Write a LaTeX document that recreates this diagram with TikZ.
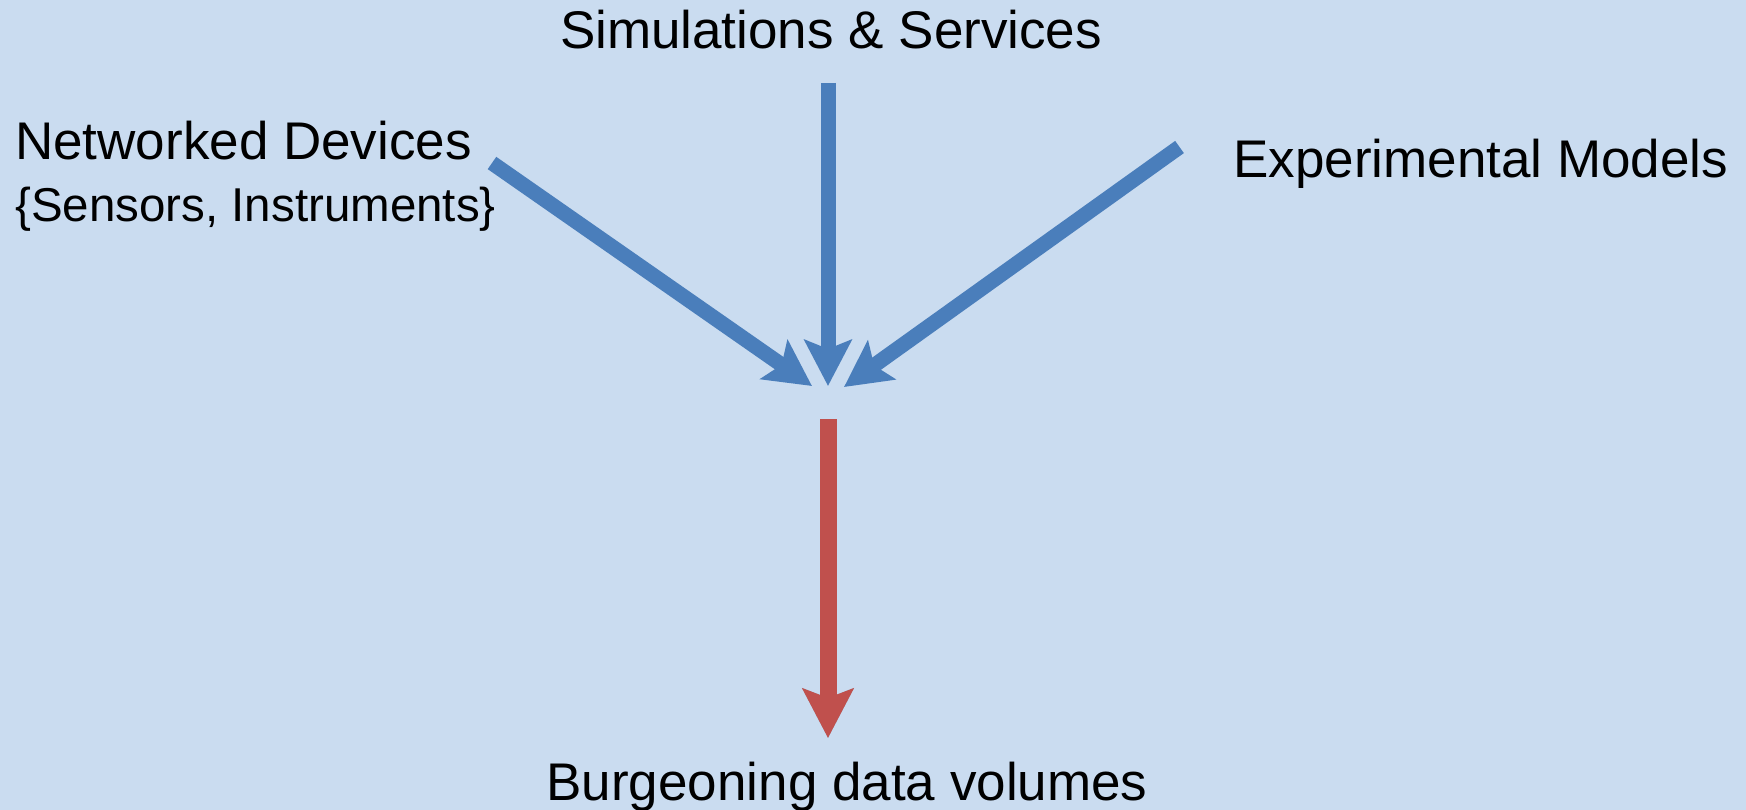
\documentclass[tikz,border=0pt]{standalone}
\usepackage{fontspec}
\setmainfont{Liberation Sans}
\usetikzlibrary{arrows.meta}
\definecolor{bgblue}{RGB}{202,220,240}
\definecolor{flowblue}{RGB}{74,126,187}
\definecolor{flowred}{RGB}{192,80,77}
\begin{document}
\begin{tikzpicture}[x=1pt,y=-1pt,
  txt/.style={inner sep=0pt, text=black, font=\fontsize{53}{64}\selectfont},
  txtsmall/.style={inner sep=0pt, text=black, font=\fontsize{47.5}{57}\selectfont},
  feed/.style={draw=flowblue, line width=15pt, -{Stealth[width=47pt,length=46pt,inset=9pt]}},
  result/.style={draw=flowred, line width=17pt, -{Stealth[width=50pt,length=49pt,inset=9pt]}},
  resultshadow/.style={draw=black, draw opacity=0.06, line width=17pt, -{Stealth[width=50pt,length=49pt,inset=9pt]}}]
  % canvas
  \fill[bgblue] (0,0) rectangle (1746,810);
  \useasboundingbox (0,0) rectangle (1746,810);

  % labels
  \node[txt, anchor=base] (sims) at (831,49) {Simulations \& Services};
  \node[txt, anchor=base west] (netdev) at (15,160) {Networked Devices};
  \node[txtsmall, anchor=base west] (netsub) at (15,222) {\{Sensors, Instruments\}};
  \node[txt, anchor=base west] (expmod) at (1233,178) {Experimental Models};
  \node[txt, anchor=base] (volumes) at (847,800) {Burgeoning data volumes};

  % arrow end points
  \coordinate (leftstart) at (492,163);
  \coordinate (leftend) at (812,386);
  \coordinate (midstart) at (828,83);
  \coordinate (midend) at (828,386);
  \coordinate (rightstart) at (1179.5,147);
  \coordinate (rightend) at (844,387);
  \coordinate (outstart) at (828,419);
  \coordinate (outend) at (828,738);

  % inputs converging
  \draw[feed] (leftstart) -- (leftend);
  \draw[feed] (midstart) -- (midend);
  \draw[feed] (rightstart) -- (rightend);

  % soft shadow under the output arrow
  \foreach \dx/\dy in {2/2, 3/3.5, 4/5, 5/6.5}
    \draw[resultshadow, shift={(\dx,\dy)}] (outstart) -- (outend);
  % output
  \draw[result] (outstart) -- (outend);
\end{tikzpicture}
\end{document}
